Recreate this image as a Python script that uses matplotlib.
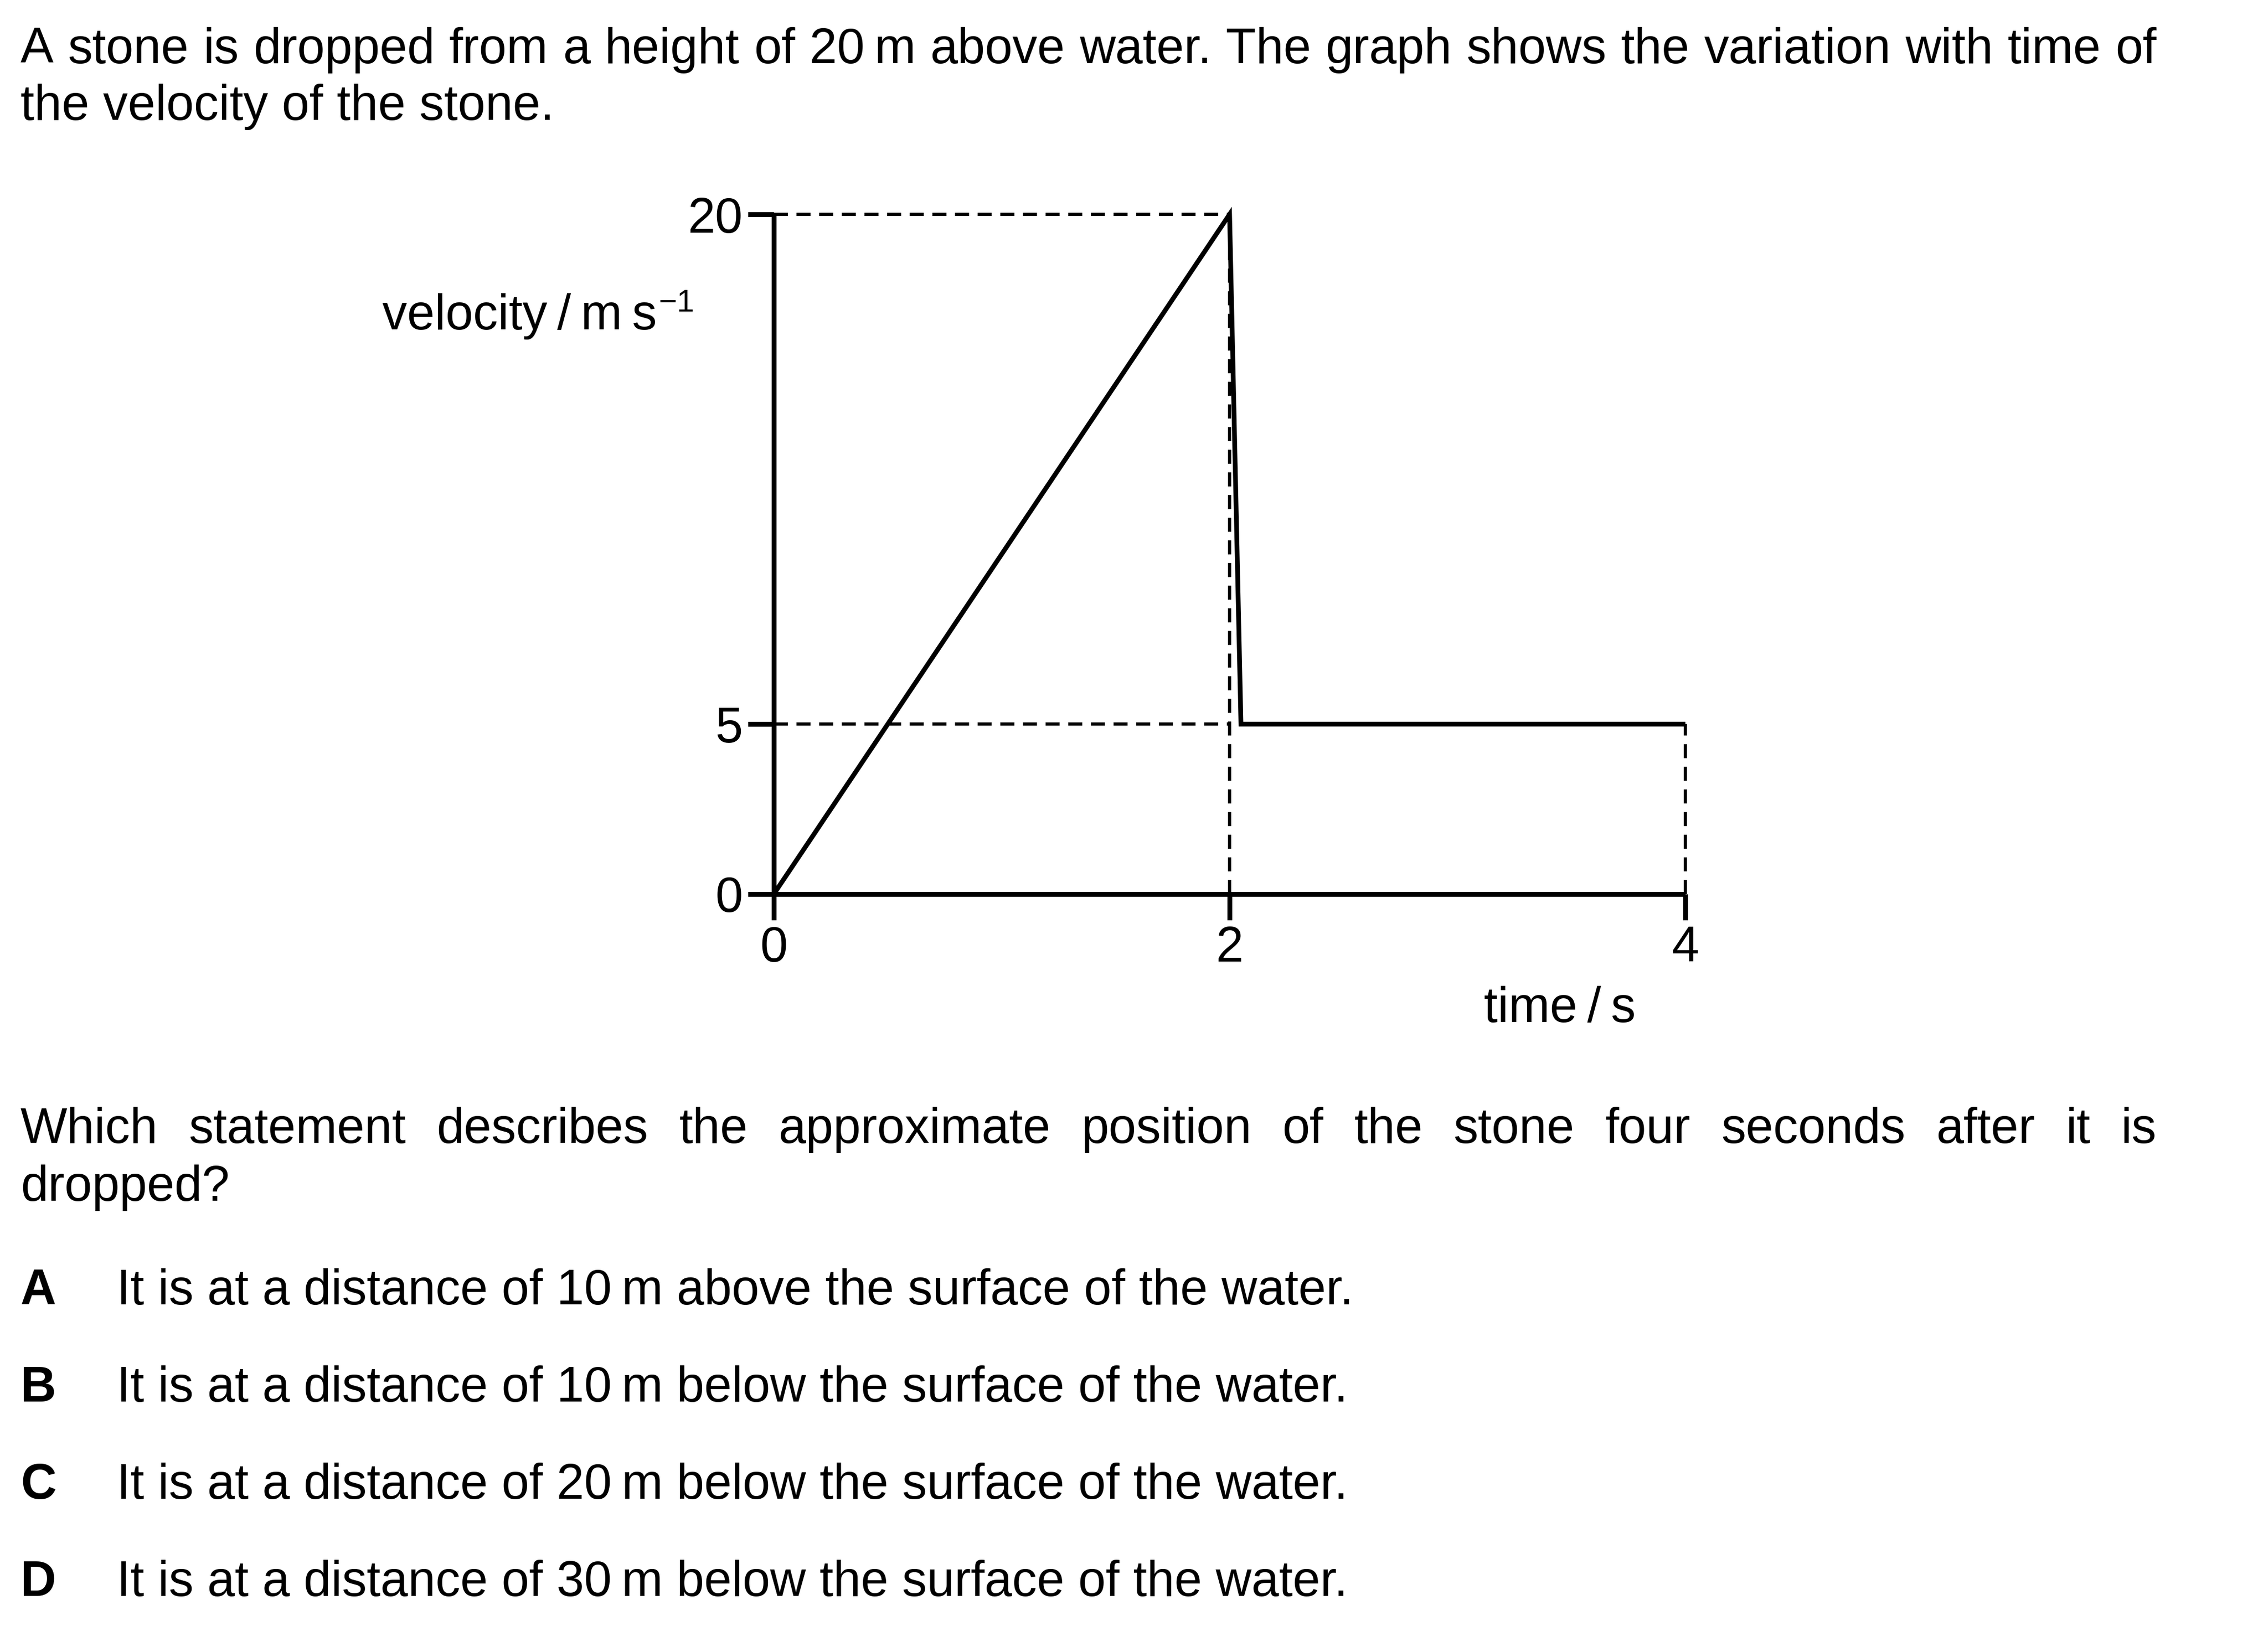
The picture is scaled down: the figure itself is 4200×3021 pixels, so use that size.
import matplotlib
matplotlib.use("Agg")
import matplotlib.pyplot as plt

plt.rcParams['font.family'] = ['Liberation Sans', 'DejaVu Sans']
plt.rcParams['lines.scale_dashes'] = False

# data
time_s = [0, 2, 2.05, 4]
velocity = [0, 20, 5, 5]
x_ticks = [0, 2, 4]
y_ticks = [0, 5, 20]

intro = ["A stone is dropped from a height of 20\u2009m above water. The graph shows the variation with time of",
         "the velocity of the stone."]
question = ["Which statement describes the approximate position of the stone four seconds after it is",
            "dropped?"]
letters = ["A", "B", "C", "D"]
answers = ["It is at a distance of 10\u2009m above the surface of the water.",
           "It is at a distance of 10\u2009m below the surface of the water.",
           "It is at a distance of 20\u2009m below the surface of the water.",
           "It is at a distance of 30\u2009m below the surface of the water."]

W, H = 4200, 3021
FS = 66
fig = plt.figure(figsize=(W / 100, H / 100), dpi=100)
renderer = fig.canvas.get_renderer()


def fx(x):
    return x / W


def fy(y):
    return 1 - y / H


def justify(line, x0, x1, y):
    """spread the words of one line between x0 and x1 (pixels)"""
    words = line.split(" ")
    items = [fig.text(0, fy(y), w, fontsize=FS, va='baseline') for w in words]
    widths = [t.get_window_extent(renderer).width for t in items]
    gap = (x1 - x0 - sum(widths)) / (len(words) - 1)
    x = x0
    for t, w in zip(items, widths):
        t.set_x(fx(x))
        x += w + gap


# text above the graph
justify(intro[0], 38, 3994, 117)
fig.text(fx(38), fy(222), intro[1], fontsize=FS, va='baseline')

# graph
ax = fig.add_axes([fx(1433), fy(1656), (3121 - 1433) / W, (1656 - 397) / H])
ax.set_xlim(0, 4)
ax.set_ylim(0, 20)
for side in ['top', 'right']:
    ax.spines[side].set_visible(False)
for side in ['left', 'bottom']:
    ax.spines[side].set_linewidth(6.5)
    ax.spines[side].set_capstyle('butt')
ax.set_xticks(x_ticks)
ax.set_yticks(y_ticks)
ax.tick_params(direction='out', length=34.5, width=6.5, labelsize=FS, pad=7)

dash = dict(color='black', lw=4.3, linestyle=(0, (18.7, 11.5)), clip_on=False)
t_peak, v_peak = time_s[1], velocity[1]
v_end, t_end = velocity[-1], time_s[-1]
ax.plot([0, t_peak], [v_peak, v_peak], **dash)
ax.plot([0, t_peak], [v_end, v_end], **dash)
ax.plot([t_peak, t_peak], [0, v_peak], **dash)
ax.plot([t_end, t_end], [0, v_end], **dash)

ax.plot(time_s, velocity, color='black', lw=6.3, clip_on=False,
        solid_joinstyle='miter', solid_capstyle='butt')

# axis labels
ylab = fig.text(fx(708), fy(610), "velocity\u2009/\u2009m\u2009s", fontsize=FS, va='baseline')
right = ylab.get_window_extent(renderer).x1
fig.text(fx(right + 3), fy(577), "\u22121", fontsize=42, va='baseline')
fig.text(fx(2748), fy(1893), "time\u2009/\u2009s", fontsize=FS, va='baseline')

# question and options
justify(question[0], 38, 3994, 2117)
fig.text(fx(38), fy(2224), question[1], fontsize=FS, va='baseline')
for i, (letter, answer) in enumerate(zip(letters, answers)):
    y = 2416 + i * 180
    fig.text(fx(38), fy(y), letter, fontsize=FS, fontweight='bold', va='baseline')
    fig.text(fx(216), fy(y), answer, fontsize=FS, va='baseline')

fig.savefig("out.png", dpi=100)
